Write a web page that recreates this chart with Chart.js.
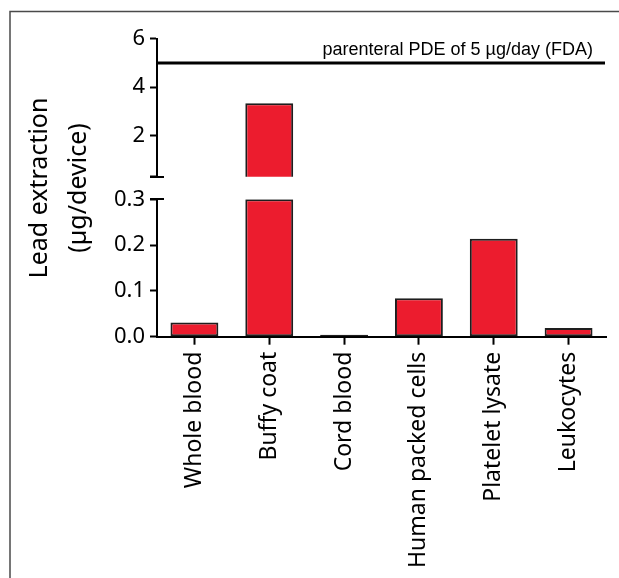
<!DOCTYPE html>
<html>
<head>
<meta charset="utf-8">
<script src="https://cdn.jsdelivr.net/npm/chart.js@4"></script>
<style>
  body { margin: 0; background: #fff; }
  canvas { display: block; }
</style>
</head>
<body>
<canvas id="myChart" width="619" height="578"></canvas>
<script>
// data
const categories = ['Whole blood', 'Buffy coat', 'Cord blood', 'Human packed cells', 'Platelet lysate', 'Leukocytes'];
const leadValues = [0.031, 3.33, 0.004, 0.084, 0.214, 0.019];
const lowerTicks = [0, 0.1, 0.2, 0.3];
const upperTicks = [0.3, 2, 4, 6];
const pdeLimit = 5;
const pdeLabel = 'parenteral PDE of 5 µg/day (FDA)';

const breakAt = 0.3;
const lowerPart = leadValues.map(v => Math.min(v, breakAt));
const upperPart = leadValues.map(v => v > breakAt ? v : null);

const red = '#ec1c2e';
const edge = '#1e1e1e';
const axisFont = 'Noto Sans';

const frame = {
  id: 'frame',
  beforeDraw(chart) {
    const ctx = chart.ctx;
    ctx.save();
    ctx.strokeStyle = '#4a4a4a';
    ctx.lineWidth = 1.5;
    ctx.beginPath();
    ctx.moveTo(619, 11.5);
    ctx.lineTo(10, 11.5);
    ctx.lineTo(10, 578);
    ctx.stroke();
    ctx.restore();
  }
};

// PDE reference line + the caps at both ends of the axis break
const pdeLine = {
  id: 'pdeLine',
  afterDatasetsDraw(chart) {
    const ctx = chart.ctx;
    const area = chart.chartArea;
    const y = chart.scales.y2.getPixelForValue(pdeLimit);
    ctx.save();
    ctx.strokeStyle = '#000';
    ctx.lineWidth = 3;
    ctx.beginPath();
    ctx.moveTo(area.left, y);
    ctx.lineTo(area.right - 1, y);
    ctx.stroke();

    ctx.lineWidth = 2;
    ctx.beginPath();
    [chart.scales.y, chart.scales.y2].forEach(s => {
      const by = Math.round(s.getPixelForValue(breakAt));
      ctx.moveTo(s.right - 7, by);
      ctx.lineTo(s.right + 7, by);
    });
    ctx.stroke();

    ctx.fillStyle = '#000';
    ctx.font = '18px "Liberation Sans"';
    ctx.textAlign = 'right';
    ctx.textBaseline = 'alphabetic';
    ctx.fillText(pdeLabel, area.right - 13, y - 8);
    ctx.restore();
  }
};

function fixWidth(scale) { scale.width = 157; }

const yTickStyle = {
  color: '#000',
  padding: 5,
  font: { family: axisFont, size: 22 }
};
const yGrid = {
  drawOnChartArea: false,
  drawTicks: true,
  tickLength: 7,
  tickWidth: 2,
  tickColor: '#000'
};

const barStyle = {
  backgroundColor: red,
  borderColor: edge,
  borderWidth: 2,
  borderSkipped: false,
  grouped: false,
  barPercentage: 0.8,
  categoryPercentage: 0.8
};

const config = {
  type: 'bar',
  data: {
    labels: categories,
    datasets: [
      Object.assign({ data: lowerPart, yAxisID: 'y' }, barStyle),
      Object.assign({ data: upperPart, yAxisID: 'y2' }, barStyle)
    ]
  },
  options: {
    responsive: false,
    animation: false,
    devicePixelRatio: 1,
    layout: { padding: { top: 38.7, right: 13, left: 0, bottom: 0 } },
    plugins: {
      legend: { display: false },
      tooltip: { enabled: false }
    },
    scales: {
      x: {
        grid: {
          offset: false,
          drawOnChartArea: false,
          tickLength: 8,
          tickWidth: 2,
          tickColor: '#000'
        },
        border: { color: '#000', width: 2 },
        ticks: {
          color: '#000',
          minRotation: 90,
          maxRotation: 90,
          padding: 7,
          autoSkip: false,
          font: { family: axisFont, size: 23 }
        },
        afterFit(scale) { scale.height = 578 - 336.7; }
      },
      y: {
        position: 'left',
        stack: 'broken',
        stackWeight: 137.4,
        weight: 0,
        min: 0,
        max: breakAt,
        afterBuildTicks(scale) { scale.ticks = lowerTicks.map(v => ({ value: v })); },
        afterFit: fixWidth,
        grid: yGrid,
        border: { color: '#000', width: 2 },
        ticks: Object.assign({}, yTickStyle, { callback: v => v.toFixed(1) })
      },
      gap: {
        position: 'left',
        stack: 'broken',
        stackWeight: 22.6,
        weight: 1,
        min: 0,
        max: 1,
        afterFit: fixWidth,
        grid: { display: false },
        border: { display: false },
        ticks: { display: false },
        title: {
          display: true,
          text: ['Lead extraction', '(µg/device)'],
          color: '#000',
          padding: { top: 20.5, bottom: 0 },
          font: { family: axisFont, size: 25, lineHeight: 1.56 }
        }
      },
      y2: {
        position: 'left',
        stack: 'broken',
        stackWeight: 138,
        weight: 2,
        min: breakAt,
        max: 6,
        afterBuildTicks(scale) { scale.ticks = upperTicks.map(v => ({ value: v })); },
        afterFit: fixWidth,
        grid: yGrid,
        border: { color: '#000', width: 2 },
        ticks: Object.assign({}, yTickStyle, { callback: v => v === breakAt ? '' : v })
      }
    }
  },
  plugins: [frame, pdeLine]
};

const myChart = new Chart(document.getElementById('myChart'), config);
</script>
</body>
</html>
